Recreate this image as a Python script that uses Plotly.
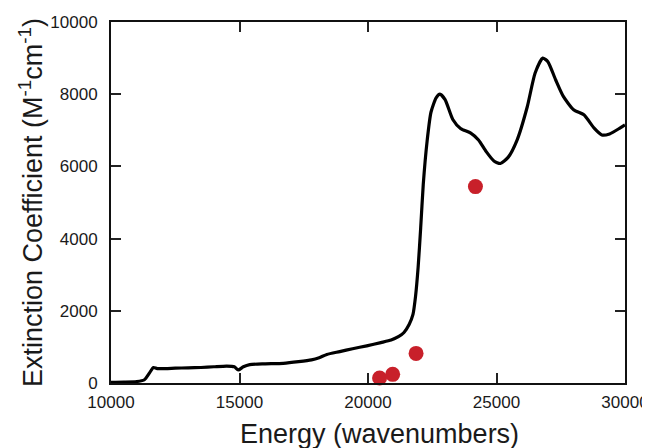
import plotly.graph_objects as go

energy = [10000, 10500, 11000, 11300, 11500, 11650, 11800, 12500, 13000, 13500, 14000, 14500, 14800, 14950,
          15150, 15400, 16000, 16700, 17300, 17800, 18100, 18400, 18900, 19400, 19950, 20500, 20900, 21200,
          21400, 21600, 21750, 21850, 21950, 22050, 22150, 22300, 22450, 22650, 22800, 23000, 23300, 23600,
          24000, 24300, 24600, 24900, 25150, 25450, 25800, 26200, 26500, 26800, 27000, 27300, 27600, 28000,
          28400, 28800, 29100, 29400, 29800, 30000]
extinction = [20, 25, 40, 90, 280, 430, 400, 410, 420, 430, 450, 470, 450, 360,
              450, 510, 530, 545, 590, 640, 700, 790, 870, 950, 1030, 1120, 1190, 1290,
              1400, 1620, 1900, 2400, 3200, 4300, 5500, 6700, 7500, 7900, 8000, 7850, 7300, 7050,
              6920, 6730, 6410, 6150, 6080, 6250, 6730, 7660, 8580, 9000, 8900, 8400, 7940, 7570,
              7430, 7060, 6870, 6900, 7060, 7150]

point_energy = [20450, 20960, 21870, 24180]
point_extinction = [140, 240, 820, 5440]

x_ticks = [10000, 15000, 20000, 25000, 30000]
y_ticks = [0, 2000, 4000, 6000, 8000, 10000]

x_title = "Energy (wavenumbers)"
y_title = "Extinction Coefficient (M<sup>-1</sup>cm<sup>-1</sup>)"

fig = go.Figure()
fig.add_trace(go.Scatter(x=energy, y=extinction, mode="lines",
                         line=dict(color="black", width=3.2, shape="spline", smoothing=0.6),
                         showlegend=False, cliponaxis=True))
fig.add_trace(go.Scatter(x=point_energy, y=point_extinction, mode="markers",
                         marker=dict(color="#c8202a", size=15, line=dict(width=0)),
                         showlegend=False, cliponaxis=False))

font_family = "Liberation Sans, Arial, sans-serif"
fig.update_layout(
    width=650, height=448,
    margin=dict(l=103, r=33, t=14, b=73),
    paper_bgcolor="white", plot_bgcolor="white",
    font=dict(family=font_family, color="#1a1a1a", size=17),
    xaxis=dict(range=[10000, 30000], tickvals=x_ticks, ticktext=[str(v) for v in x_ticks],
               showgrid=False, zeroline=False, showline=True, linecolor="#111", linewidth=2,
               mirror="ticks", ticks="inside", ticklen=10, tickwidth=2, tickcolor="#222",
               tickfont=dict(size=17), ticklabelstandoff=3, automargin=False),
    yaxis=dict(range=[0, 10000], tickvals=y_ticks, ticktext=[str(v) for v in y_ticks],
               showgrid=False, zeroline=False, showline=True, linecolor="#111", linewidth=2,
               mirror="ticks", ticks="inside", ticklen=10, tickwidth=2, tickcolor="#222",
               tickfont=dict(size=17), ticklabelstandoff=8, automargin=False,
               title=dict(text=y_title, font=dict(size=27), standoff=0)),
    annotations=[dict(text=x_title, xref="paper", yref="paper", x=0.523, y=0,
                      xanchor="center", yanchor="top", yshift=-34, showarrow=False,
                      font=dict(size=27, family=font_family, color="#1a1a1a"))],
)

fig.write_html("out.html")
